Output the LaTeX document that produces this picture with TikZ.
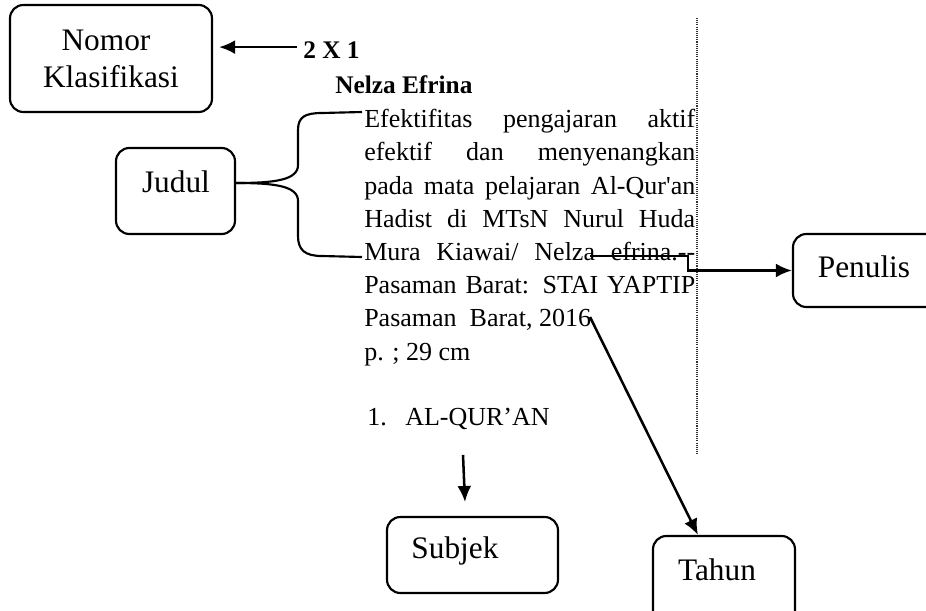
\documentclass[tikz,border=0pt]{standalone}
\usepackage{fontspec}
\setmainfont{Liberation Serif}
\usetikzlibrary{arrows.meta,fit,calc}
\newcommand\jline[1]{\makebox[248.25pt][s]{#1}}
\begin{document}
\begin{tikzpicture}[x=0.75pt,y=-0.75pt,
  box/.style={draw,line width=1.6pt,rounded corners=10pt,inner sep=0pt},
  lab/.style={inner sep=0pt,anchor=base,font=\fontsize{23.5pt}{27.75pt}\selectfont},
  txt/.style={inner sep=0pt,anchor=base west,font=\fontsize{19.5pt}{24pt}\selectfont},
  bld/.style={txt,font=\fontsize{19pt}{24pt}\selectfont\bfseries},
  conn/.style={line width=1.9pt},
  arr/.style={conn,-{Latex[length=12pt,width=10.5pt]}},
  brace/.style={line width=1.6pt},
]
\useasboundingbox (0,0) rectangle (926,611);
\fill[white] (0,0) rectangle (926,611);
\clip (0,0) rectangle (926,611);

% boxes
\node[box,fit={(10,5) (212,112)}] (nomor) {};
\node[box,fit={(116,148) (235,234)}] (judul) {};
\node[box,fit={(793,234) (950,307)}] (penulis) {};
\node[box,fit={(387,517) (558,593)}] (subjek) {};
\node[box,fit={(653,536) (795,650)}] (tahun) {};

% box labels
\node[lab] (nomorT) at (106,50) {Nomor};
\node[lab] (klasT) at (111,87) {Klasifikasi};
\node[lab] (judulT) at (176,192) {Judul};
\node[lab] (penulisT) at (864,277) {Penulis};
\node[lab] (subjekT) at (455,558) {Subjek};
\node[lab] (tahunT) at (717,580) {Tahun};

% catalogue card text
\node[bld] (n2x1) at (303,58) {2 X 1};
\node[bld] (nelza) at (335,93) {Nelza Efrina};
\node[txt] (l1) at (364,127) {\jline{Efektifitas pengajaran aktif}};
\node[txt] (l2) at (364,160) {\jline{efektif dan menyenangkan}};
\node[txt] (l3) at (364,194) {\jline{pada mata pelajaran Al-Qur\textquotesingle an}};
\node[txt] (l4) at (364,227) {\jline{Hadist di MTsN Nurul Huda}};
\node[txt] (l5) at (364,260) {\jline{Mura Kiawai/ Nelza efrina.-{}-}};
\node[txt] (l6) at (364,293) {\jline{Pasaman Barat: STAI YAPTIP}};
\node[txt] (l7) at (364,326) {Pasaman~~Barat, 2016};
\node[txt] (l8) at (364,360) {p. ; 29 cm};
\node[txt] (alq) at (367,425) {1.\hspace{13.9pt}AL-QUR’AN};

% dotted margin line
\draw[line width=0.8pt,dash pattern=on 0.8pt off 0.8pt,black!80] (697,18) -- (697,455);

% brace to Judul
\coordinate (bt) at ($(judul.east)+(0,-8)$);
\draw[brace] (bt) .. controls (275,183) and (298,180) .. (298,165) -- (298,130)
  .. controls (298,117) and (305,113) .. (322,113) -- (362,112);
\draw[brace] (bt) .. controls (275,183) and (298,186) .. (298,201) -- (298,236)
  .. controls (298,250) and (305,256) .. (322,256) -- (362,257);

% connectors
\draw[arr] ($(n2x1.west)+(-6,-2.5)$) -- ($(n2x1.west -| nomor.east)+(6,-2.5)$);
\coordinate (pst) at (590,256);
\coordinate (pbend) at (688,256);
\draw[arr] (pst) -- (pbend) |- (penulis.west);
\coordinate (tst) at (590,317);
\draw[arr] (tst) -- ($(tahun.north west)+(46,0)$);
\coordinate (sst) at (463,455);
\coordinate (sen) at (465,502);
\draw[arr] (sst) -- (sen);
\end{tikzpicture}
\end{document}
